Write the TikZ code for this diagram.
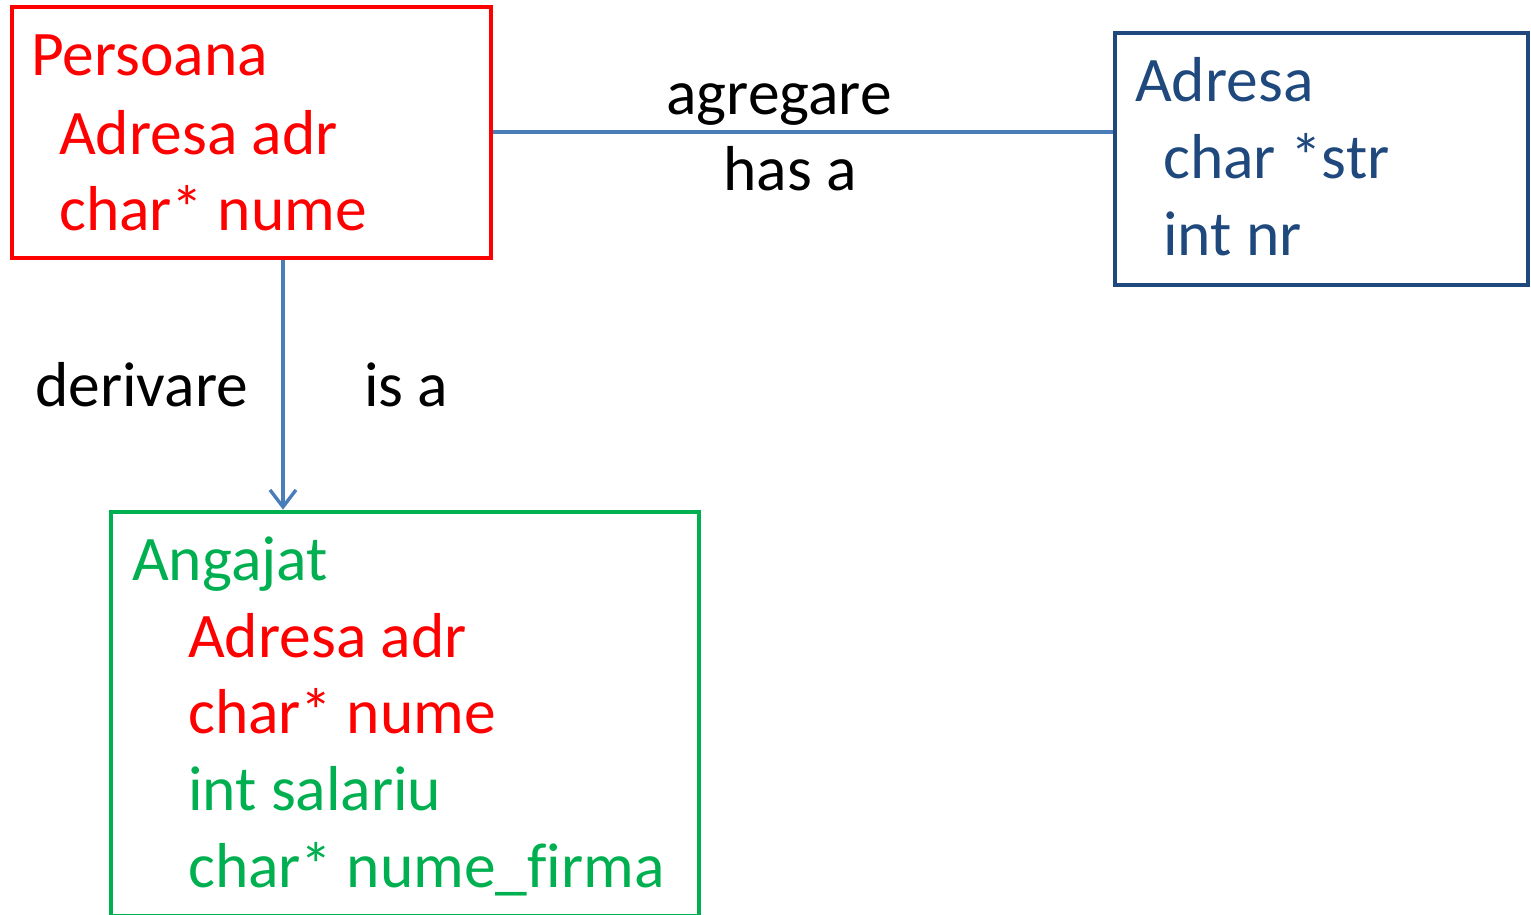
\documentclass[tikz,border=0pt]{standalone}
\usepackage{fontspec}
\setmainfont{Carlito}[Ligatures=NoCommon]
\usepackage{tikz}
\usetikzlibrary{arrows.meta, positioning}
\definecolor{persred}{HTML}{FF0000}
\definecolor{adrblue}{HTML}{1F497D}
\definecolor{angreen}{HTML}{00B050}
\definecolor{linkblue}{HTML}{4A7EBB}
\tikzset{>={Straight Barb[length=17pt,width=26pt]}}
\tikzset{
  classbox/.style={draw, line width=4.6pt, inner sep=0pt},
  txt/.style={anchor=base west, inner sep=0pt, font=\fontsize{63.5}{77}\selectfont},
  lbl/.style={inner sep=0pt, font=\fontsize{63.5}{77}\selectfont},
  conn/.style={draw=linkblue, line width=3.4pt}
}

\begin{document}
\begin{tikzpicture}[x=1pt, y=-1pt]
            \useasboundingbox (0,0) rectangle (1531,915);
            \node[classbox, draw=persred, minimum width=479pt, minimum height=251pt] (persoana) at (251.5,132.5) {};
            \node[classbox, draw=adrblue, minimum width=413pt, minimum height=252pt] (adresa) at (1321.5,159) {};
            \node[classbox, draw=angreen, minimum width=588pt, minimum height=404pt] (angajat) at (405,714) {};
            % Persoana
            \node[txt, text=persred] (p1) at (31,76){Persoana};
            \node[txt, text=persred] (p2) at (59,154){Adresa adr};
            \node[txt, text=persred] (p3) at (59,230){char* nume};
            % Adresa
            \node[txt, text=adrblue] (a1) at (1135,102){Adresa};
            \node[txt, text=adrblue] (a2) at (1163,178){char *str};
            \node[txt, text=adrblue] (a3) at (1163,255){int nr};
            % Angajat
            \node[txt, text=angreen] (g1) at (132,580){Angajat};
            \node[txt, text=persred] (g2) at (188,657){Adresa adr};
            \node[txt, text=persred] (g3) at (188,733){char* nume};
            \node[txt, text=angreen] (g4) at (188,810){int salariu};
            \node[txt, text=angreen] (g5) at (188,887){char* nume\_firma};
            % legaturi
            \draw[conn] (persoana.east |- 0,132) -- (adresa.west |- 0,132);
            \draw[conn, ->] (persoana.south -| 283,0) -- (angajat.north -| 283,0);
            \node[lbl, anchor=base] (agr) at (779,115){agregare};
            \node[lbl, anchor=base] (hasa) at (790,190){has a};
            \node[lbl, anchor=base west] (der) at (35,406){derivare};
            \node[lbl, anchor=base west] (isa) at (364,406){is a};
\end{tikzpicture}
\end{document}
